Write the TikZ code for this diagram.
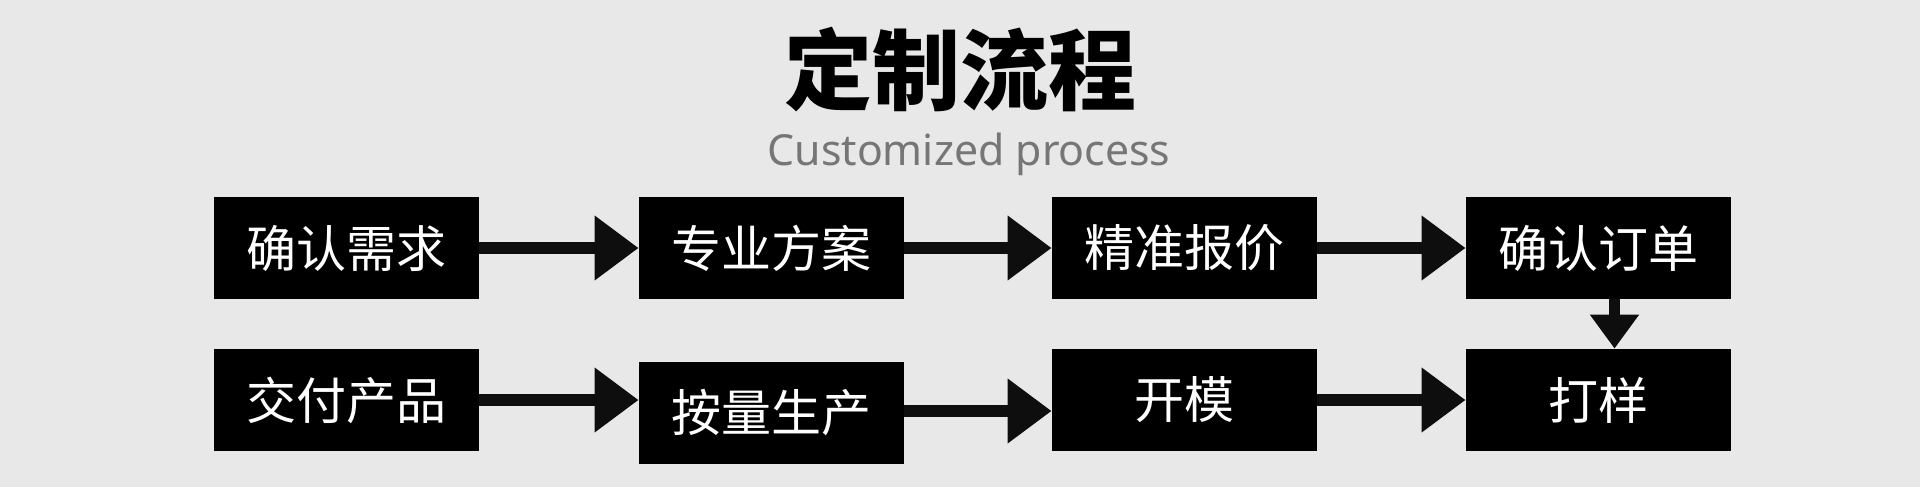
\documentclass[tikz,border=0pt]{standalone}
\usepackage{fontspec}
\newfontfamily\cjk{Noto Sans CJK SC}
\newfontfamily\latinsans{Noto Sans}
\usetikzlibrary{arrows.meta,positioning}
\definecolor{bggray}{RGB}{232,232,232}
\definecolor{subgray}{RGB}{118,118,118}
\definecolor{arrowblack}{RGB}{14,14,14}
\tikzstyle{procbox}=[fill=black, text=white, minimum width=132.5pt, minimum height=51pt, inner sep=0pt, font=\cjk\fontsize{25pt}{30pt}\selectfont]
\tikzstyle{invis}=[inner sep=0pt]
\tikzstyle{flowArrow}=[draw=arrowblack, line width=6pt, -{Triangle[length=22pt,width=31pt]}]
\tikzstyle{downArrow}=[draw=arrowblack, line width=5.5pt, -{Triangle[length=17pt,width=23.5pt]}]

\begin{document}
\begin{tikzpicture}[x=0.5pt, y=-0.5pt]
    \fill[bggray] (0,0) rectangle (1920,487);
    \useasboundingbox (0,0) rectangle (1920,487);

    % heading
    \node[invis, anchor=base] (title) at (960, 103) {\cjk\bfseries\fontsize{44pt}{50pt}\selectfont 定制流程};
    \node[invis, anchor=base, text=subgray] (subtitle) at (969, 165) {\latinsans\fontsize{21.4pt}{25pt}\selectfont Customized process};

    % nodes
    \node[procbox] (b1) at (346.5, 248) {确认需求};
    \node[procbox] (b2) at (771.5, 248) {专业方案};
    \node[procbox] (b3) at (1184.5, 248) {精准报价};
    \node[procbox] (b4) at (1598.5, 248) {确认订单};
    \node[procbox] (b5) at (346.5, 400) {交付产品};
    \node[procbox] (b6) at (771.5, 413) {按量生产};
    \node[procbox] (b7) at (1184.5, 400) {开模};
    \node[procbox] (b8) at (1598.5, 400) {打样};

    % first row
    \draw[flowArrow] (b1) -- (b2);
    \draw[flowArrow] (b2) -- (b3);
    \draw[flowArrow] (b3) -- (b4);
    \draw[downArrow] ([xshift=8pt]b4.south) -- ([xshift=8pt]b8.north);

    % second row
    \draw[flowArrow] (b5.east) -- (b5.east -| b6.west);
    \draw[flowArrow] ([yshift=1pt]b6.east) -- ([yshift=1pt]b6.east -| b7.west);
    \draw[flowArrow] (b7) -- (b8);
\end{tikzpicture}
\end{document}
